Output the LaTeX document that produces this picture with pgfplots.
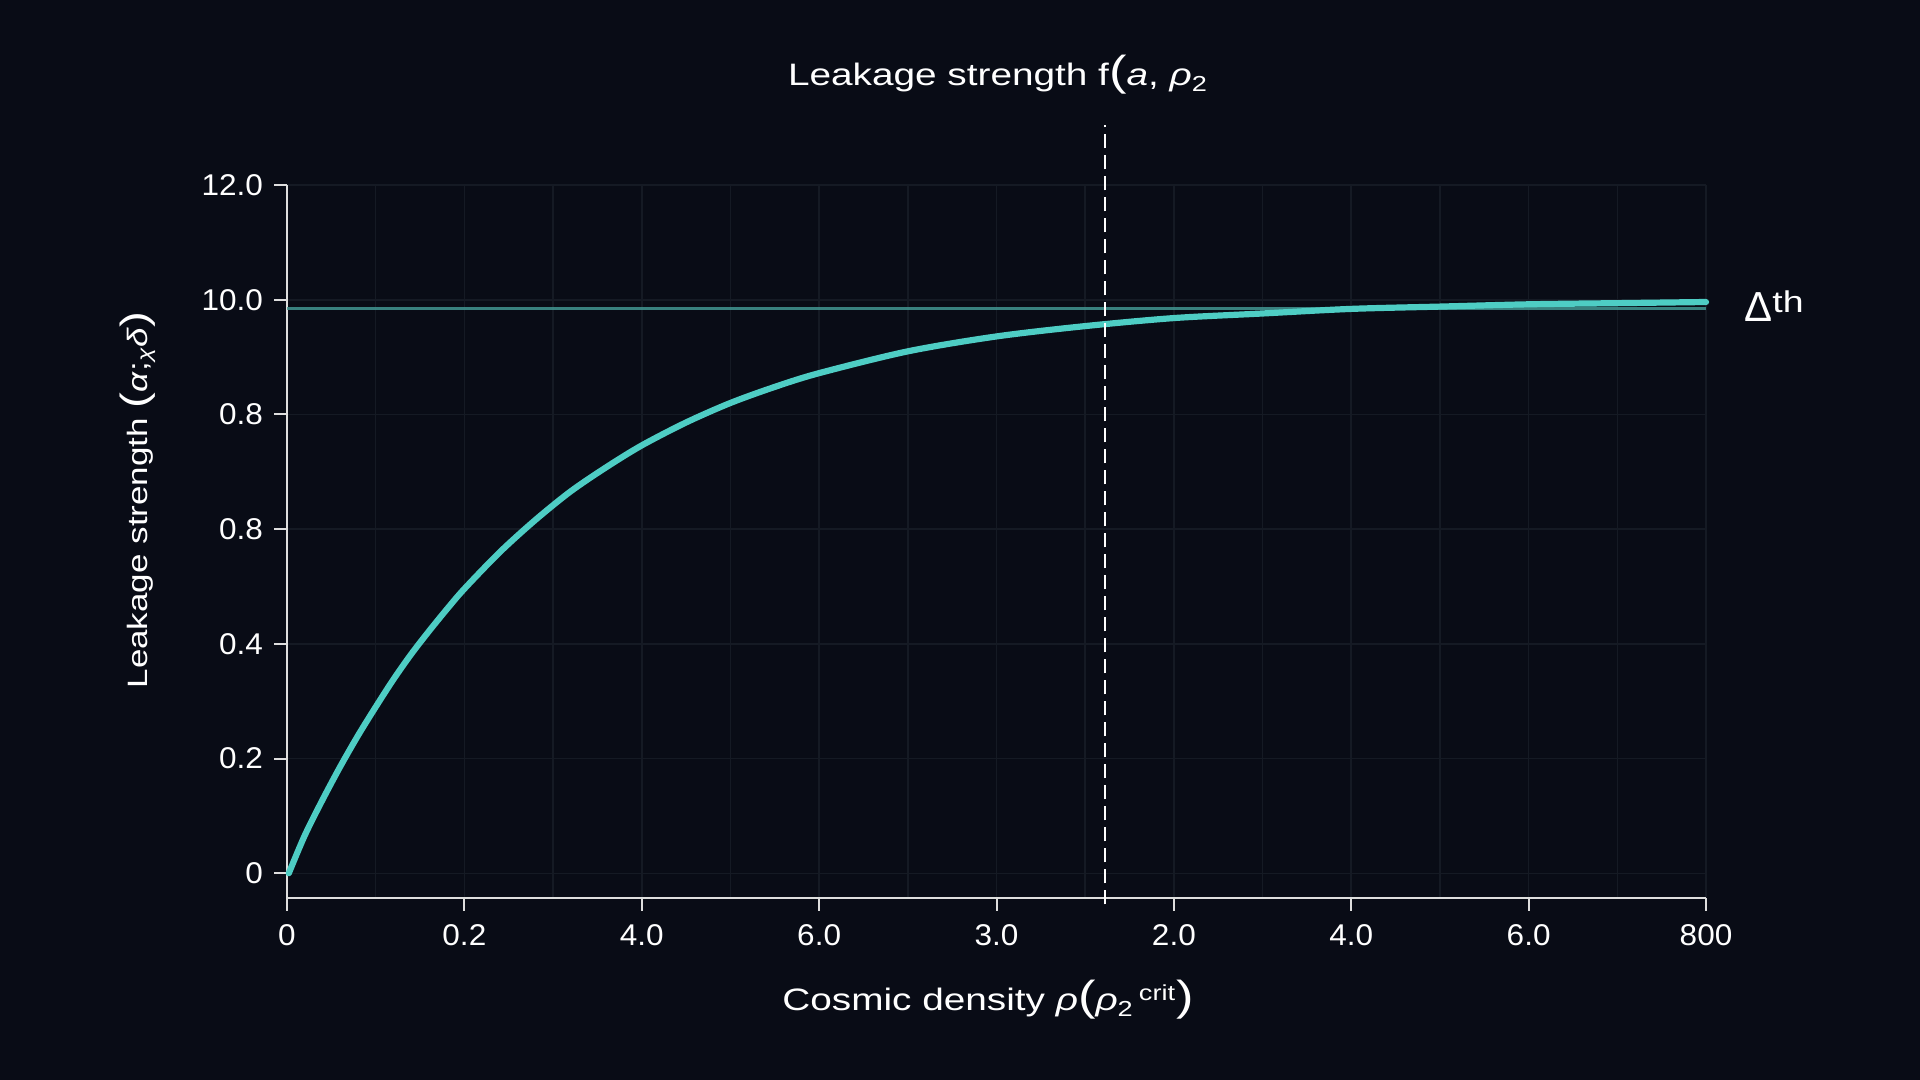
\documentclass[border=0pt]{standalone}
\usepackage{fontspec}
\setmainfont{Liberation Sans}
\newfontfamily\widefont{Liberation Sans}[FakeStretch=1.25]
\newfontfamily\tickfont{Liberation Sans}[FakeStretch=1.05]
\usepackage{pgfplots}
\pgfplotsset{compat=1.18}
\definecolor{bg}{RGB}{9,12,22}
\definecolor{gridc}{RGB}{21,26,36}
\definecolor{curve}{RGB}{78,205,196}
\definecolor{thresh}{RGB}{66,150,146}
\definecolor{axisc}{RGB}{222,222,222}

\begin{document}
\begin{tikzpicture}
% page is 960pt x 540pt, 1px of the reference = 0.5pt
\fill[bg] (0,0) rectangle (960pt,540pt);

\begin{axis}[
    at={(143.5pt,91pt)}, anchor=south west,
    scale only axis,
    width=709.5pt, height=356.5pt,
    xmin=0, xmax=8,
    ymin=-0.215, ymax=6,
    axis x line=bottom, axis y line=left,
    axis line style={-, axisc, line width=1pt},
    xtick={0,1,2,3,4,5,6,7,8},
    xticklabels={0,0.2,4.0,6.0,3.0,2.0,4.0,6.0,800},
    ytick={0,1,2,3,4,5,6},
    yticklabels={0,0.2,0.4,0.8,0.8,10.0,12.0},
    minor x tick num=1,
    tick align=outside,
    major tick length=6.5pt,
    minor tick length=0pt,
    tick style={axisc, line width=1pt},
    xmajorgrids, ymajorgrids, xminorgrids,
    major grid style={gridc, line width=0.8pt},
    minor grid style={gridc, line width=0.8pt},
    ticklabel style={font=\tickfont\fontsize{15}{18}\selectfont, text=white},
    xticklabel style={yshift=-3pt},
    yticklabel style={xshift=-2pt},
    /pgf/number format/assume math mode=true,
    clip=false,
]
% threshold
\addplot[thresh, line width=1.4pt, opacity=0.85] coordinates {(0,4.92) (8,4.92)};
% leakage curve
\addplot[curve, line width=3.1pt, smooth, line cap=round, line join=round] coordinates {
    (0.01,0) (0.1,0.33) (0.2,0.64) (0.3,0.93) (0.4,1.20) (0.5,1.45)
    (0.6,1.69) (0.7,1.91) (0.8,2.11) (0.9,2.30) (1.0,2.48) (1.2,2.80)
    (1.4,3.08) (1.6,3.33) (1.8,3.54) (2.0,3.73) (2.25,3.93) (2.5,4.10)
    (2.75,4.24) (3.0,4.36) (3.5,4.55) (4.0,4.68) (4.5,4.77) (5.0,4.84)
    (5.5,4.88) (6.0,4.92) (6.5,4.94) (7.0,4.96) (7.5,4.97) (8.0,4.98)
};
% critical density marker
\addplot[white, line width=1.2pt, dash pattern=on 7pt off 3.5pt] coordinates {(4.61,-0.27) (4.61,6.52)};
\end{axis}

\node[text=white, font=\widefont\fontsize{15.5}{18}\selectfont] at (499pt,502.5pt)
    {Leakage strength f{\fontsize{21}{24}\selectfont(}\textit{a}, \textit{ρ}\textsubscript{2}};
\node[text=white, font=\widefont\fontsize{15.5}{18}\selectfont] at (494pt,40pt)
    {Cosmic density \textit{ρ}{\fontsize{21}{24}\selectfont(}\textit{ρ}\textsubscript{2}\,\textsuperscript{crit}{\fontsize{21}{24}\selectfont)}};
\node[text=white, font=\widefont\fontsize{14}{17}\selectfont, rotate=90] at (69pt,290pt)
    {Leakage strength {\fontsize{19}{24}\selectfont(}\textit{α};\textsubscript{\textit{χ}}\textit{δ}{\fontsize{19}{24}\selectfont)}};
\node[text=white, anchor=base west, inner sep=0pt] at (872pt,379pt)
    {{\fontsize{21}{24}\selectfont Δ}\raisebox{4.5pt}{\widefont\fontsize{15}{18}\selectfont th}};
\end{tikzpicture}
\end{document}
